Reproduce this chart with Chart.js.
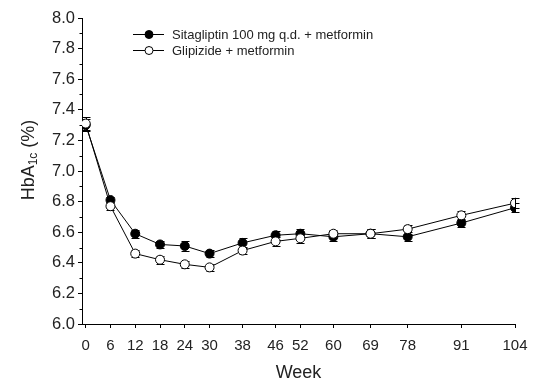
<!DOCTYPE html>
<html>
<head>
<meta charset="utf-8">
<script src="https://cdn.jsdelivr.net/npm/chart.js@4/dist/chart.umd.min.js"></script>
<style>
  html, body { margin: 0; padding: 0; background: #fff; }
  #wrap { width: 541px; height: 381px; position: relative; }
</style>
</head>
<body>
<div id="wrap"><canvas id="myChart"></canvas></div>
<script>
const weeks = [0, 6, 12, 18, 24, 30, 38, 46, 52, 60, 69, 78, 91, 104];
const sitaValues = [7.30, 6.81, 6.59, 6.52, 6.51, 6.46, 6.53, 6.58, 6.59, 6.57, 6.59, 6.57, 6.66, 6.76];
const sitaErr = [0.04, 0.02, 0.025, 0.025, 0.03, 0.025, 0.03, 0.03, 0.03, 0.03, 0.03, 0.03, 0.025, 0.03];
const glipValues = [7.31, 6.77, 6.46, 6.42, 6.39, 6.37, 6.48, 6.54, 6.56, 6.59, 6.59, 6.62, 6.71, 6.79];
const glipErr = [0.04, 0.025, 0.025, 0.025, 0.025, 0.025, 0.025, 0.03, 0.03, 0.025, 0.03, 0.03, 0.03, 0.035];
const yTicks = [6.0, 6.2, 6.4, 6.6, 6.8, 7.0, 7.2, 7.4, 7.6, 7.8, 8.0];
const seriesNames = ["Sitagliptin 100 mg q.d. + metformin", "Glipizide + metformin"];

const FONT = "'Liberation Sans', Arial, sans-serif";

function toPoints(vals, errs) {
  return weeks.map((w, i) => ({ x: w, y: vals[i], e: errs[i] }));
}

// error bars, drawn under the markers
const errorBars = {
  id: "errorBars",
  beforeDatasetsDraw(chart) {
    const ctx = chart.ctx;
    const xs = chart.scales.x, ys = chart.scales.y;
    ctx.save();
    ctx.strokeStyle = "#000";
    ctx.lineWidth = 1;
    chart.data.datasets.forEach((ds) => {
      ds.data.forEach((p) => {
        const px = Math.round(xs.getPixelForValue(p.x)) + 0.5;
        const top = ys.getPixelForValue(p.y + p.e);
        const bot = ys.getPixelForValue(p.y - p.e);
        ctx.beginPath();
        ctx.moveTo(px, top); ctx.lineTo(px, bot);
        ctx.moveTo(px - 4, Math.round(top) + 0.5); ctx.lineTo(px + 4, Math.round(top) + 0.5);
        ctx.moveTo(px - 4, Math.round(bot) + 0.5); ctx.lineTo(px + 4, Math.round(bot) + 0.5);
        ctx.stroke();
      });
    });
    ctx.restore();
  }
};

// minor y ticks, y title with subscript, and legend inside the plot
const extras = {
  id: "extras",
  afterDraw(chart) {
    const ctx = chart.ctx;
    const ys = chart.scales.y;
    const left = chart.chartArea.left;
    ctx.save();
    ctx.strokeStyle = "#000";
    ctx.lineWidth = 1;
    for (let v = 6.1; v < 8.0; v += 0.2) {
      const py = Math.round(ys.getPixelForValue(v)) + 0.5;
      ctx.beginPath();
      ctx.moveTo(left - 2.5, py); ctx.lineTo(left, py);
      ctx.stroke();
    }

    // y title: HbA1c (%)
    ctx.translate(29, 160);
    ctx.rotate(-Math.PI / 2);
    ctx.fillStyle = "#222";
    ctx.textBaseline = "middle";
    const big = "18px " + FONT, small = "12px " + FONT;
    ctx.font = big;
    const w1 = ctx.measureText("HbA").width;
    const w3 = ctx.measureText(" (%)").width;
    ctx.font = small;
    const w2 = ctx.measureText("1c").width;
    let x0 = -(w1 + w2 + w3) / 2;
    ctx.font = big;
    ctx.fillText("HbA", x0, 0);
    ctx.font = small;
    ctx.fillText("1c", x0 + w1, 5);
    ctx.font = big;
    ctx.fillText(" (%)", x0 + w1 + w2, 0);
    ctx.restore();

    // legend
    ctx.save();
    chart.data.datasets.forEach((ds, i) => {
      const y = 34 + i * 16;
      ctx.strokeStyle = "#000";
      ctx.lineWidth = 1;
      ctx.beginPath();
      ctx.moveTo(133, y + 0.5); ctx.lineTo(164, y + 0.5);
      ctx.stroke();
      ctx.beginPath();
      ctx.arc(149, y + 0.5, 4, 0, Math.PI * 2);
      ctx.fillStyle = ds.pointBackgroundColor;
      ctx.fill();
      ctx.stroke();
      ctx.fillStyle = "#222";
      ctx.font = "13px " + FONT;
      ctx.textBaseline = "middle";
      ctx.fillText(ds.label, 172, y + 1);
    });
    ctx.restore();
  }
};

const config = {
  type: "line",
  data: {
    datasets: [
      {
        label: seriesNames[0],
        data: toPoints(sitaValues, sitaErr),
        borderColor: "#000",
        borderWidth: 1,
        pointRadius: 4.5,
        pointBackgroundColor: "#000",
        pointBorderColor: "#000",
        pointBorderWidth: 1,
        order: 1
      },
      {
        label: seriesNames[1],
        data: toPoints(glipValues, glipErr),
        borderColor: "#000",
        borderWidth: 1,
        pointRadius: 4.5,
        pointBackgroundColor: "#fff",
        pointBorderColor: "#000",
        pointBorderWidth: 1,
        order: 0
      }
    ]
  },
  options: {
    responsive: true,
    maintainAspectRatio: false,
    animation: false,
    layout: { padding: { top: 18, right: 26, left: 0, bottom: 0 } },
    plugins: { legend: { display: false }, tooltip: { enabled: false } },
    scales: {
      x: {
        type: "linear",
        min: -0.9,
        max: 104,
        afterBuildTicks: (s) => { s.ticks = weeks.map((v) => ({ value: v })); },
        afterFit: (s) => { s.height = 57; },
        ticks: { color: "#222", font: { size: 15, family: FONT }, padding: 9, maxRotation: 0, autoSkip: false },
        grid: { display: true, drawOnChartArea: false, tickLength: 4, color: "#000" },
        border: { display: true, color: "#000", width: 1 },
        title: { display: true, text: "Week", color: "#222", font: { size: 18, family: FONT, lineHeight: 1 }, padding: { top: 2, bottom: -1 } }
      },
      y: {
        min: 6.0,
        max: 8.0,
        afterBuildTicks: (s) => { s.ticks = yTicks.map((v) => ({ value: v })); },
        afterFit: (s) => { s.width = 82; },
        ticks: { color: "#222", font: { size: 16.5, family: FONT }, padding: 3, callback: (v) => Number(v).toFixed(1) },
        grid: { display: true, drawOnChartArea: false, tickLength: 4, color: "#000" },
        border: { display: true, color: "#000", width: 1 }
      }
    }
  },
  plugins: [errorBars, extras]
};

new Chart(document.getElementById("myChart"), config);
</script>
</body>
</html>
